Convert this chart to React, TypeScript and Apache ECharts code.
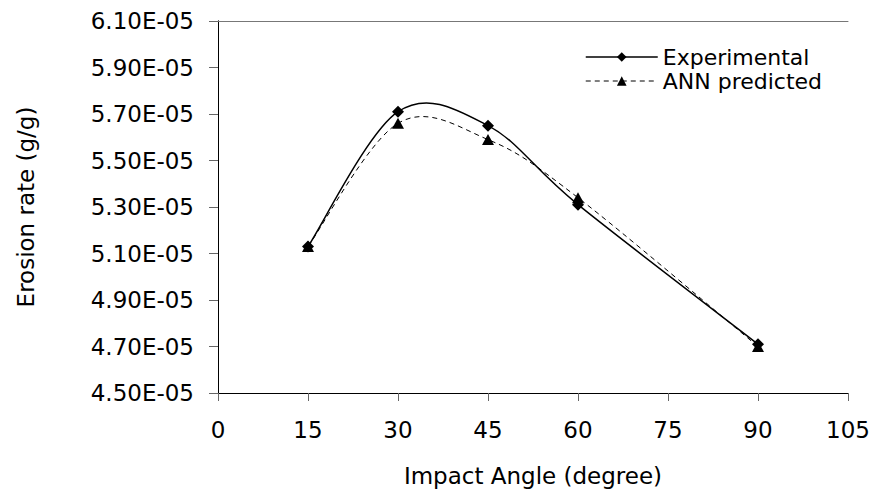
import React, { useEffect, useRef } from 'react';
import * as echarts from 'echarts';

const angles = [15, 30, 45, 60, 90];
const experimental = [5.13e-5, 5.71e-5, 5.65e-5, 5.31e-5, 4.71e-5];
const annPredicted = [5.13e-5, 5.66e-5, 5.59e-5, 5.34e-5, 4.70e-5];
const seriesNames = ['Experimental', 'ANN predicted'];
const xTitle = 'Impact Angle (degree)';
const yTitle = 'Erosion rate (g/g)';

const FONT = 'DejaVu Sans';

// Excel-like smoothed curve through the points (Bezier, 1/6 tangent factor)
function smoothPath(pts: number[][]): string {
  const n = pts.length;
  let d = `M${pts[0][0]},${pts[0][1]}`;
  for (let i = 0; i < n - 1; i++) {
    const p0 = pts[Math.max(0, i - 1)];
    const p1 = pts[i];
    const p2 = pts[i + 1];
    const p3 = pts[Math.min(n - 1, i + 2)];
    const c1x = p1[0] + (p2[0] - p0[0]) / 6;
    const c1y = p1[1] + (p2[1] - p0[1]) / 6;
    const c2x = p2[0] - (p3[0] - p1[0]) / 6;
    const c2y = p2[1] - (p3[1] - p1[1]) / 6;
    d += ` C${c1x},${c1y} ${c2x},${c2y} ${p2[0]},${p2[1]}`;
  }
  return d;
}

function curveSeries(values: number[], width: number, dash: number[] | null) {
  return {
    type: 'custom',
    coordinateSystem: 'cartesian2d',
    silent: true,
    clip: false,
    z: 1,
    data: angles.map((a, i) => [a, values[i]]),
    encode: { x: 0, y: 1 },
    renderItem: (params: any, api: any) => {
      if (params.dataIndex !== 0) return null;
      const pts = angles.map((a, i) => api.coord([a, values[i]]));
      return {
        type: 'path',
        shape: { pathData: smoothPath(pts) },
        style: {
          fill: 'none',
          stroke: '#000',
          lineWidth: width,
          lineDash: dash || undefined,
        },
      };
    },
  };
}

export default function App() {
  const ref = useRef<HTMLDivElement>(null);
  useEffect(() => {
    if (!ref.current) return;
    const chart = echarts.init(ref.current, null, { renderer: 'svg' });
    const fmtY = (v: number) => (v * 1e5).toFixed(2) + 'E-05';
    chart.setOption({
      animation: false,
      backgroundColor: '#fff',
      textStyle: { fontFamily: FONT },
      grid: { left: 218, right: 27, top: 21, bottom: 97 },
      legend: {
        left: 580,
        top: 41,
        orient: 'vertical',
        itemWidth: 72,
        itemHeight: 12,
        itemGap: 2,
        textStyle: { fontFamily: FONT, fontSize: 22, color: '#000' },
        data: [
          {
            name: seriesNames[0],
            lineStyle: { color: '#000', width: 1.5, type: 'solid', opacity: 1 },
            itemStyle: { color: '#000' },
          },
          {
            name: seriesNames[1],
            lineStyle: { color: '#000', width: 1, type: [5, 4], opacity: 1 },
            itemStyle: { color: '#000' },
          },
        ],
      },
      xAxis: [
        {
          type: 'value',
          min: 0,
          max: 105,
          interval: 15,
          name: xTitle,
          nameLocation: 'middle',
          nameGap: 71,
          nameTextStyle: { fontFamily: FONT, fontSize: 23, color: '#000' },
          axisLine: { lineStyle: { color: '#000', width: 1 } },
          axisTick: { show: true, inside: false, length: 8, lineStyle: { color: '#666' } },
          axisLabel: { fontFamily: FONT, fontSize: 23, color: '#000', margin: 25 },
          splitLine: { show: false },
        },
        {
          type: 'value',
          position: 'top',
          min: 0,
          max: 105,
          axisLine: { show: true, lineStyle: { color: '#777', width: 1 } },
          axisTick: { show: false },
          axisLabel: { show: false },
          splitLine: { show: false },
        },
      ],
      yAxis: [
        {
          type: 'value',
          min: 4.5e-5,
          max: 6.1e-5,
          interval: 0.2e-5,
          name: yTitle,
          nameLocation: 'middle',
          nameGap: 181,
          nameTextStyle: { fontFamily: FONT, fontSize: 23, color: '#000' },
          axisLine: { show: true, lineStyle: { color: '#000', width: 1 } },
          axisTick: { show: true, inside: false, length: 9, lineStyle: { color: '#666' } },
          axisLabel: { fontFamily: FONT, fontSize: 23, color: '#000', margin: 24, formatter: fmtY },
          splitLine: { show: false },
        },
        {
          type: 'value',
          position: 'right',
          min: 4.5e-5,
          max: 6.1e-5,
          axisLine: { show: true, lineStyle: { color: '#000', width: 1 } },
          axisTick: { show: false },
          axisLabel: { show: false },
          splitLine: { show: false },
        },
      ],
      series: [
        curveSeries(experimental, 1.5, null),
        curveSeries(annPredicted, 1, [5, 4]),
        {
          name: seriesNames[0],
          type: 'line',
          data: angles.map((a, i) => [a, experimental[i]]),
          symbol: 'diamond',
          symbolSize: [12, 12],
          itemStyle: { color: '#000' },
          lineStyle: { opacity: 0 },
          z: 4,
        },
        {
          name: seriesNames[1],
          type: 'line',
          data: angles.map((a, i) => [a, annPredicted[i]]),
          symbol: 'triangle',
          symbolSize: [12, 11],
          itemStyle: { color: '#000' },
          lineStyle: { opacity: 0 },
          z: 3,
        },
      ],
    });
    return () => chart.dispose();
  }, []);
  return <div ref={ref} style={{ width: 875, height: 492, position: 'absolute', left: 0, top: 0 }} />;
}
